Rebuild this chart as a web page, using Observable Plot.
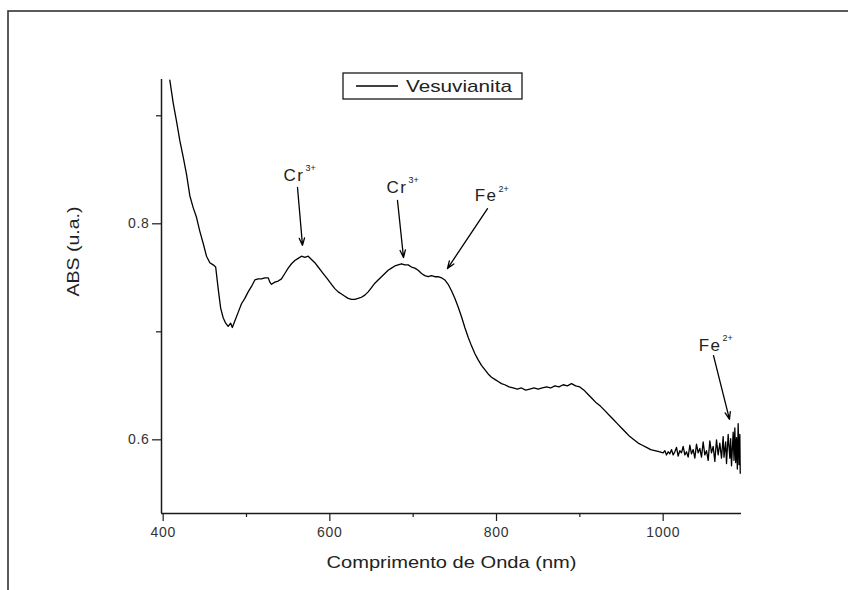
<!DOCTYPE html>
<html>
<head>
<meta charset="utf-8">
<script src="https://cdn.jsdelivr.net/npm/d3@7"></script>
<script src="https://cdn.jsdelivr.net/npm/@observablehq/plot@0.6"></script>
<style>
  html, body { margin: 0; padding: 0; background: #fff; }
  #chart { position: relative; width: 848px; height: 590px; overflow: hidden; }
  #chart svg g[aria-label$="tick label"] text { letter-spacing: 0.7px; }
</style>
</head>
<body>
<div id="chart"></div>
<script>
// ---- Data ----
const seriesName = "Vesuvianita";
const xTitle = "Comprimento de Onda (nm)";
const yTitle = "ABS (u.a.)";

const wavelength = [
  408,412,416,420,424,428,432,436,440,444,448,452,456,460,463,466,469,472,475,478,481,483,486,490,494,498,
  502,506,510,514,518,522,526,528,530,534,538,542,546,550,554,558,562,566,570,574,578,582,586,590,594,598,
  602,606,610,614,618,622,626,630,634,638,642,646,650,654,658,662,666,670,674,678,682,686,690,694,698,
  702,706,710,714,718,722,726,730,734,738,742,746,750,754,758,762,766,770,774,778,782,786,790,794,798,
  802,806,810,815,820,825,830,835,840,845,850,855,860,865,870,875,880,885,890,895,900,905,910,915,920,
  925,930,935,940,945,950,955,960,965,970,975,980,985,990,995,1000,
  1002,1004,1006,1008,1010,1012,1014,1016,1018,1020,1022,1024,1026,1028,1030,1032,1034,1036,1038,1040,
  1042,1044,1046,1048,1050,1052,1054,1056,1058,1060,1062,1064,1066,1068,1070,1072,
  1073,1075,1076,1078,1080,1081,1082,1084,1085,1086,1087,1088,1089,1090,1091,1092,1092.5
];
const absorbance = [
  0.933,0.912,0.895,0.877,0.862,0.846,0.826,0.815,0.806,0.793,0.782,0.770,0.764,0.762,0.760,0.740,0.722,0.713,0.708,0.705,0.708,0.704,0.710,0.718,0.726,0.731,
  0.737,0.742,0.748,0.749,0.749,0.750,0.750,0.746,0.744,0.746,0.747,0.749,0.754,0.759,0.763,0.766,0.768,0.770,0.769,0.770,0.767,0.764,0.760,0.756,0.752,0.748,
  0.744,0.740,0.737,0.735,0.733,0.731,0.730,0.730,0.731,0.732,0.734,0.737,0.741,0.745,0.748,0.751,0.754,0.757,0.759,0.761,0.762,0.763,0.762,0.762,0.760,
  0.759,0.757,0.754,0.752,0.751,0.752,0.751,0.751,0.750,0.748,0.744,0.738,0.731,0.723,0.714,0.704,0.695,0.687,0.680,0.674,0.669,0.665,0.661,0.658,0.656,
  0.654,0.652,0.651,0.649,0.648,0.647,0.648,0.646,0.647,0.648,0.647,0.648,0.649,0.648,0.650,0.649,0.651,0.650,0.652,0.650,0.649,0.646,0.642,0.638,0.634,
  0.631,0.627,0.623,0.619,0.615,0.611,0.607,0.603,0.600,0.597,0.595,0.593,0.591,0.590,0.589,0.588,
  0.590,0.586,0.589,0.587,0.591,0.586,0.589,0.593,0.585,0.590,0.588,0.594,0.586,0.589,0.584,0.595,0.587,0.591,0.583,0.596,
  0.588,0.592,0.584,0.598,0.586,0.590,0.581,0.599,0.588,0.594,0.580,0.600,0.586,0.597,0.583,0.603,
  0.584,0.598,0.578,0.605,0.583,0.601,0.576,0.607,0.581,0.611,0.579,0.602,0.573,0.615,0.577,0.605,0.569
];

const xMajorTicks = [400, 600, 800, 1000];
const xMinorTicks = [500, 700, 900];
const yMajorTicks = [0.6, 0.8];
const yMinorTicks = [0.7, 0.9];
const xDomain = [398, 1094];
const yDomain = [0.5318, 0.9336];

// annotations (data coordinates)
const annotBase   = ["Cr", "Cr", "Fe", "Fe"];
const annotSup    = ["3+", "3+", "2+", "2+"];
const annotX      = [569.6, 693.2, 801.2, 1070];
const annotY      = [0.8447, 0.8336, 0.826, 0.6873];
const arrowFromX  = [561.2, 681.2, 789.2, 1060.4];
const arrowFromY  = [0.8336, 0.8216, 0.814, 0.678];
const arrowToX    = [567.2, 688.4, 741.2, 1079.6];
const arrowToY    = [0.780, 0.7688, 0.7586, 0.619];

// ---- Build tables ----
const spectrum = wavelength.map((w, i) => ({w, a: absorbance[i]}));
const annots = annotBase.map((b, i) => ({
  base: b, sup: annotSup[i], x: annotX[i], y: annotY[i],
  x1: arrowFromX[i], y1: arrowFromY[i], x2: arrowToX[i], y2: arrowToY[i]
}));

const font = "'Liberation Sans', Arial, Helvetica, sans-serif";
const ink = "#1a1a1a";

const plot = Plot.plot({
  width: 848,
  height: 590,
  marginLeft: 161,
  marginRight: 107,
  marginTop: 79,
  marginBottom: 77,
  style: {fontFamily: font, background: "white", color: ink},
  x: {domain: xDomain},
  y: {domain: yDomain},
  marks: [
    Plot.axisX({ticks: xMajorTicks, tickSize: 8, tickPadding: 6, fontSize: 14, tickFormat: d => String(d), label: null, stroke: ink, strokeWidth: 1.2, fill: "#333"}),
    Plot.axisX({ticks: xMinorTicks, tickSize: 4, tickFormat: () => "", label: null, stroke: ink, strokeWidth: 1.2}),
    Plot.axisY({ticks: yMajorTicks, tickSize: 9, tickPadding: 3, fontSize: 14, tickFormat: d => d.toFixed(1), label: null, stroke: ink, strokeWidth: 1.2, fill: "#333"}),
    Plot.axisY({ticks: yMinorTicks, tickSize: 5, tickFormat: () => "", label: null, stroke: ink, strokeWidth: 1.2}),
    Plot.ruleY([yDomain[0]], {stroke: ink, strokeWidth: 1.5}),
    Plot.ruleX([xDomain[0]], {stroke: ink, strokeWidth: 1.5}),
    Plot.line(spectrum, {x: "w", y: "a", stroke: "#000", strokeWidth: 1.3, clip: true}),
    Plot.arrow(annots, {x1: "x1", y1: "y1", x2: "x2", y2: "y2", stroke: "#000", strokeWidth: 1.3, headLength: 9, headAngle: 40}),
    Plot.text(annots, {x: "x", y: "y", text: "base", textAnchor: "end", fontSize: 17, fill: "#222"}),
    Plot.text(annots, {x: "x", y: "y", text: "sup", textAnchor: "start", dx: 1, dy: -7, fontSize: 9, fill: "#222"}),
    Plot.text([xTitle], {frameAnchor: "bottom", dy: 54, fontSize: 17, fill: "#222"}),
    Plot.text([yTitle], {frameAnchor: "left", dx: -88, rotate: -90, fontSize: 17, fill: "#222"})
  ]
});

const svg = d3.select(plot);
// stretch titles horizontally like the original export
svg.selectAll("text").filter(function() { return this.textContent === xTitle; })
  .attr("textLength", 250).attr("lengthAdjust", "spacingAndGlyphs");
svg.selectAll("text").filter(function() { return this.textContent === yTitle; })
  .attr("textLength", 90).attr("lengthAdjust", "spacingAndGlyphs");
svg.selectAll("g[aria-label='text'] text").filter(function() { return this.textContent === "Cr" || this.textContent === "Fe"; })
  .attr("letter-spacing", 1.5);

// page decorations: outer border and legend box
svg.append("rect")
  .attr("x", 8).attr("y", 11).attr("width", 900).attr("height", 700)
  .attr("fill", "none").attr("stroke", "#333").attr("stroke-width", 1.6);
const lg = svg.append("g");
lg.append("rect").attr("x", 343).attr("y", 73).attr("width", 179).attr("height", 26)
  .attr("fill", "white").attr("stroke", ink).attr("stroke-width", 1.3);
lg.append("line").attr("x1", 356).attr("x2", 398).attr("y1", 86).attr("y2", 86)
  .attr("stroke", "#000").attr("stroke-width", 1.3);
lg.append("text").attr("x", 406).attr("y", 86).attr("dy", "0.35em")
  .attr("text-anchor", "start")
  .attr("font-size", 17).attr("textLength", 106).attr("lengthAdjust", "spacingAndGlyphs")
  .attr("fill", "#222").attr("font-family", font).text(seriesName);

document.getElementById("chart").appendChild(plot);
</script>
</body>
</html>
